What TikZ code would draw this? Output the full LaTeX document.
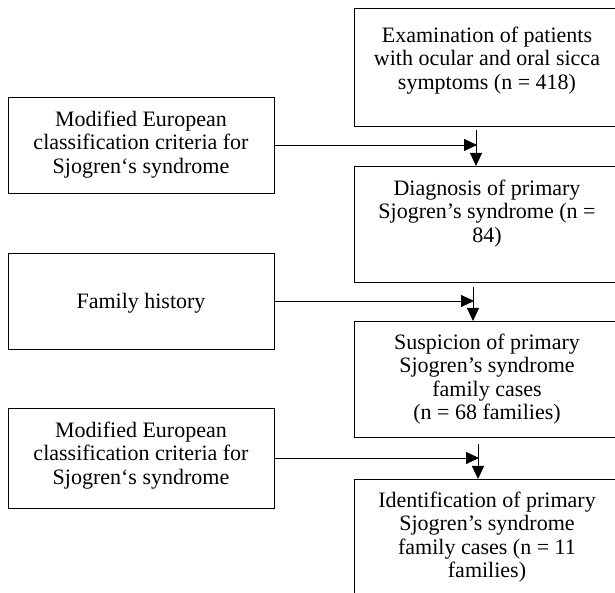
\documentclass[tikz,border=0pt]{standalone}
\usepackage{fontspec}
\setmainfont{Liberation Serif}
\usetikzlibrary{arrows.meta}
\begin{document}
\begin{tikzpicture}[x=1pt,y=1pt,
  box/.style={draw=black, line width=0.9pt, minimum width=266pt, inner sep=0pt, anchor=north},
  txt/.style={anchor=north, inner sep=0pt, align=center, font=\fontsize{22}{23.3}\selectfont},
  conn/.style={line width=0.9pt, -{Triangle[length=13pt,width=12pt]}}]
\clip (0,0) rectangle (615,593);
% right column
\node[box, minimum height=118pt] (r1) at (487,585) {};
\node[box, minimum height=116pt] (r2) at (487,427) {};
\node[box, minimum height=116pt] (r3) at (487,272) {};
\node[box, minimum height=116pt] (r4) at (487,114) {};
% left column
\node[box, minimum height=96pt] (l1) at (141,496) {};
\node[box, minimum height=96pt] (l2) at (141,340) {};
\node[box, minimum height=100pt] (l3) at (141,185) {};
% texts
\node[txt, yshift=-19pt] (t1) at (r1.north) {Examination of patients\\with ocular and oral sicca\\symptoms (n = 418)};
\node[txt, yshift=-14pt] (t2) at (r2.north) {Diagnosis of primary\\Sjogren’s syndrome (n =\\84)};
\node[txt, yshift=-13pt] (t3) at (r3.north) {Suspicion of primary\\Sjogren’s syndrome\\family cases\\(n = 68 families)};
\node[txt, yshift=-13pt] (t4) at (r4.north) {Identification of primary\\Sjogren’s syndrome\\family cases (n = 11\\families)};
\node[txt, yshift=-14pt] (s1) at (l1.north) {Modified European\\classification criteria for\\Sjogren‘s syndrome};
\node[txt, anchor=center, yshift=-2pt] (s2) at (l2.center) {Family history};
\node[txt, yshift=-14pt] (s3) at (l3.north) {Modified European\\classification criteria for\\Sjogren‘s syndrome};
% connectors
\coordinate (h1) at (477,448);
\coordinate (v1) at (476,463);
\coordinate (h2) at (474,292);
\coordinate (v2) at (473,306);
\coordinate (h3) at (479,135);
\coordinate (v3) at (478,149);
\draw[conn] (l1.east |- h1) -- (h1);
\draw[conn] (v1) -- (v1 |- r2.north);
\draw[conn] (l2.east |- h2) -- (h2);
\draw[conn] (v2) -- (v2 |- r3.north);
\draw[conn] (l3.east |- h3) -- (h3);
\draw[conn] (v3) -- (v3 |- r4.north);
\end{tikzpicture}
\end{document}
